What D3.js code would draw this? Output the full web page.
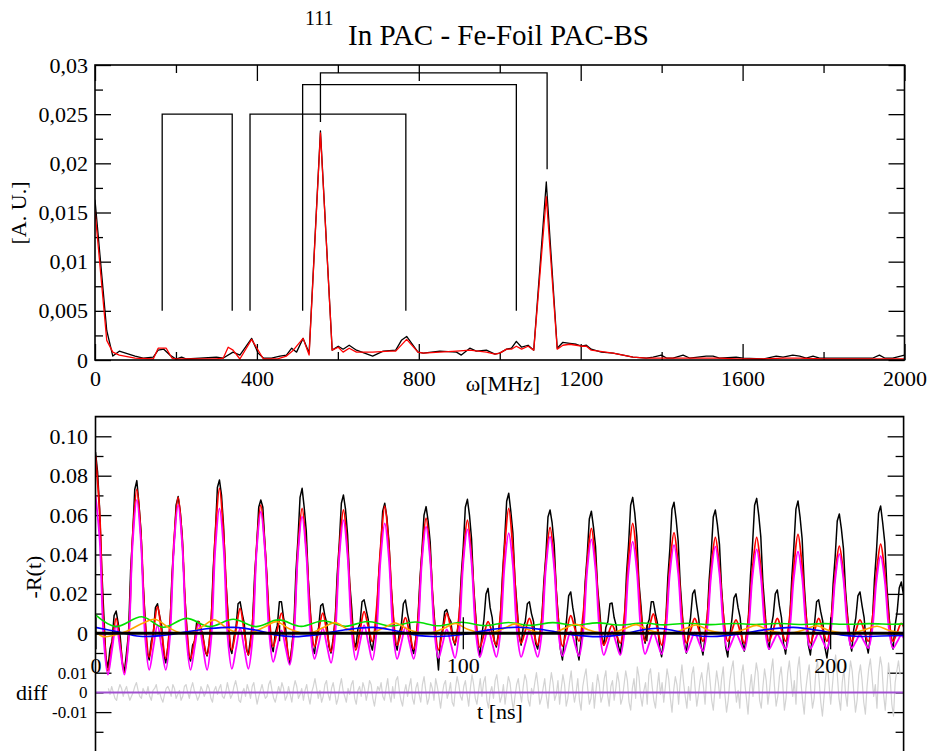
<!DOCTYPE html>
<html><head><meta charset="utf-8">
<script src="https://cdn.jsdelivr.net/npm/d3@7"></script>
<style>
body{margin:0;background:#fff}
svg{display:block}
text{font-family:"Liberation Serif","Times New Roman",serif;fill:#000}
</style>
</head><body>
<svg id="c" width="934" height="751"></svg>
<script>
// ---------------- Top panel: Fourier spectrum ----------------
const fftOmegaData = [0,29,44,60,99,119,144,156,170,185,200,214,226,259,300,317,341,358,387,403,416,436,457,473,486,498,514,529,557,586,601,613,628,646,686,712,743,757,770,798,811,852,893,905,926,942,967,988,1000,1017,1029,1041,1054,1070,1084,1115,1142,1156,1173,1189,1202,1214,1226,1251,1280,1305,1329,1362,1379,1399,1412,1428,1453,1469,1510,1527,1543,1584,1601,1650,1683,1700,1724,1741,1757,1774,1790,1840,1856,1922,1938,1951,1971,2000];
const fftAmpData = [0.0163,0.0030,0.0004,0.0009,0.0004,0.0002,0.0003,0.0010,0.0011,0.0005,0.0001,0.0003,0.0001,0.0002,0.0003,0.0002,0.0008,0.0005,0.0022,0.0007,0.0002,0.0002,0.0004,0.0005,0.0012,0.0008,0.0022,0.0007,0.0233,0.0010,0.0014,0.0011,0.0015,0.0010,0.0004,0.0009,0.0010,0.0020,0.0024,0.0008,0.0007,0.0009,0.0008,0.0005,0.0012,0.0009,0.0010,0.0006,0.0007,0.0011,0.0012,0.0019,0.0013,0.0015,0.0010,0.0181,0.0012,0.0018,0.0017,0.0016,0.0014,0.0015,0.0011,0.0008,0.0007,0.0005,0.0003,0.0002,0.0003,0.0005,0.0002,0.0002,0.0005,0.0002,0.0004,0.0004,0.0002,0.0003,0.0002,0.0001,0.0004,0.0003,0.0005,0.0004,0.0002,0.0004,0.0002,0.0002,0.0002,0.0002,0.0005,0.0002,0.0002,0.0005];
const fftOmegaFit = [0,29,44,60,99,144,156,176,190,200,259,300,317,329,341,358,387,416,449,473,490,514,529,557,586,601,613,628,646,686,728,743,770,798,811,893,926,967,988,1000,1017,1029,1041,1054,1070,1084,1115,1142,1156,1173,1189,1202,1214,1226,1280,1329,1362,1400,1450,1500,1543,1584,1650,1700,1741,1800,1856,1922,2000];
const fftAmpFit = [0.0152,0.0020,0.0008,0.0005,0.0002,0.0001,0.0012,0.0012,0.0002,0.0001,0.0001,0.0001,0.0002,0.0013,0.0010,0.0001,0.0021,0.0001,0.0001,0.0004,0.0010,0.0022,0.0005,0.0231,0.0010,0.0013,0.0008,0.0012,0.0008,0.0008,0.0009,0.0009,0.0021,0.0008,0.0007,0.0009,0.0010,0.0008,0.0006,0.0007,0.0011,0.0011,0.0014,0.0011,0.0014,0.0010,0.0166,0.0011,0.0015,0.0016,0.0015,0.0014,0.0014,0.0010,0.0007,0.0003,0.0002,0.0002,0.0002,0.0002,0.0002,0.0001,0.0001,0.0002,0.0002,0.0001,0.0001,0.0001,0.0001];
// frequency triplet markers
const markerLeft   = [166, 383, 513, 557];
const markerRight  = [339, 768, 1041, 1117];
const markerTop    = [0.025, 0.025, 0.028, 0.0292];
const markerFootL  = [0.005, 0.005, 0.005, 0.0242];
const markerFootR  = [0.005, 0.005, 0.005, 0.0194];
const topXMajor = [0,400,800,1200,1600,2000];
const topXMinor = [200,600,1000,1400,1800];
const topYMajor = [0,0.005,0.01,0.015,0.02,0.025,0.03];
const topYMinor = [0.0025,0.0075,0.0125,0.0175,0.0225,0.0275];

// ---------------- Bottom panel: -R(t) ----------------
const dataStep = 0.5625; // ns between measured samples
const rtData = [
.092,.082,.063,.033,.010,-.012,-.0175,-.008,-.004,.009,.0113,.005,-.002,-.015,-.0195,-.010,.000,.032,.050,.073,
.0775,.066,.052,.026,.008,-.010,-.0135,-.004,.000,.013,.015,.009,.004,-.011,-.015,-.007,.002,.029,.045,.065,
.0694,.062,.049,.023,.006,-.011,-.014,-.006,-.004,.006,.006,.002,-.001,-.009,-.0115,-.005,.006,.033,.051,.074,
.0778,.070,.054,.028,.012,-.007,-.0102,-.002,.003,.015,.016,.010,.005,-.008,-.011,-.003,.005,.029,.044,.064,
.0677,.064,.045,.028,.006,-.006,-.0093,.000,.004,.016,.016,.008,.003,-.010,-.0152,-.007,.003,.031,.048,.069,
.0736,.064,.052,.027,.011,-.007,-.0102,-.001,.003,.014,.015,.009,.005,-.007,-.010,-.003,.007,.030,.046,.066,
.0702,.063,.050,.026,.013,-.004,-.007,.002,.005,.016,.017,.012,.007,-.005,-.0085,-.001,.007,.028,.043,.062,
.066,.059,.047,.025,.010,-.005,-.0085,.000,.004,.015,.0169,.010,.005,-.007,-.0102,-.003,.006,.027,.042,.060,
.0643,.057,.046,.022,.008,-.007,-.0186,-.002,.002,.011,.012,.008,.006,-.003,-.006,.000,.008,.029,.044,.064,
.068,.060,.048,.024,.009,-.006,-.0119,-.001,.007,.020,.0228,.013,.008,-.004,-.007,.000,.009,.030,.047,.067,
.0711,.062,.051,.027,.014,-.001,-.006,.003,.006,.015,.016,.010,.006,-.005,-.008,-.001,.007,.026,.040,.059,
.0626,.056,.045,.022,.008,-.008,-.0135,-.002,.007,.019,.021,.013,.007,-.008,-.0135,-.004,.005,.026,.040,.058,
.062,.054,.044,.023,.012,-.002,-.006,.003,.006,.015,.0154,.008,.004,-.006,-.0102,-.002,.007,.030,.045,.065,
.069,.061,.049,.026,.014,.000,-.005,.004,.007,.016,.016,.010,.005,-.007,-.0119,-.003,.006,.028,.043,.063,
.0665,.058,.047,.025,.010,-.005,-.010,.001,.008,.020,.022,.014,.007,-.006,-.011,-.002,.006,.027,.041,.059,
.0626,.055,.045,.023,.008,-.007,-.012,-.001,.007,.018,.020,.013,.008,-.004,-.009,-.001,.008,.029,.045,.065,
.0685,.060,.049,.026,.012,-.003,-.008,.003,.009,.020,.022,.014,.008,-.005,-.0105,-.002,.007,.028,.044,.063,
.0672,.059,.048,.025,.009,-.006,-.011,-.001,.005,.016,.017,.011,.006,-.007,-.0125,-.004,.004,.025,.039,.057,
.0606,.053,.043,.022,.009,-.004,-.009,.002,.008,.019,.021,.014,.008,-.005,-.010,-.002,.006,.027,.042,.061,
.0646,.056,.046,.024,.010,-.004,-.008,.004,.011,.023,.026,.020,.016];
const fitStep = 1.125; // ns between fit-curve samples
const rtFit = [
.0900,.0612,.0035,-.0190,-.0057,.0076,-.0062,-.0200,-.0018,.0496,
.0730,.0496,.0063,-.0120,.0008,.0135,.0004,-.0127,.0046,.0469,
.0690,.0469,.0046,-.0127,-.0034,.0059,-.0026,-.0110,.0074,.0500,
.0736,.0500,.0099,-.0085,.0021,.0127,.0008,-.0110,.0053,.0443,
.0651,.0443,.0095,-.0068,.0017,.0102,-.0017,-.0135,.0024,.0431,
.0634,.0431,.0091,-.0068,.0017,.0102,.0005,-.0093,.0064,.0426,
.0626,.0426,.0072,-.0085,.0013,.0110,.0034,-.0042,.0120,.0439,
.0646,.0439,.0102,-.0060,.0010,.0080,.0000,-.0080,.0066,.0397,
.0584,.0397,.0061,-.0085,.0009,.0102,.0026,-.0050,.0094,.0391,
.0575,.0391,.0074,-.0070,-.0006,.0059,.0000,-.0060,.0099,.0431,
.0634,.0431,.0109,-.0050,.0013,.0076,.0008,-.0060,.0075,.0366,
.0538,.0366,.0070,-.0065,.0013,.0090,.0025,-.0040,.0093,.0362,
.0533,.0362,.0073,-.0060,-.0009,.0042,-.0004,-.0050,.0090,.0379,
.0558,.0379,.0100,-.0040,.0029,.0098,.0019,-.0060,.0068,.0347,
.0511,.0347,.0078,-.0050,.0013,.0076,.0018,-.0040,.0082,.0331,
.0487,.0331,.0082,-.0040,.0014,.0068,.0009,-.0050,.0072,.0331,
.0487,.0331,.0082,-.0040,.0018,.0076,.0018,-.0040,.0086,.0341,
.0502,.0341,.0076,-.0050,.0013,.0076,.0018,-.0040,.0071,.0301,
.0443,.0301,.0071,-.0040,.0014,.0068,.0014,-.0040,.0073,.0308,
.0453,.0308,.0073,-.0040,.0005,.0050,.0005];
const rtComponentFe = [
.0700,.0476,-.0035,-.0210,-.0084,.0042,-.0084,-.0210,-.0041,.0460,
.0677,.0460,-.0017,-.0186,-.0072,.0042,-.0072,-.0186,-.0023,.0443,
.0651,.0443,-.0023,-.0186,-.0071,.0045,-.0071,-.0186,-.0028,.0431,
.0634,.0431,-.0022,-.0180,-.0078,.0025,-.0078,-.0180,-.0026,.0420,
.0617,.0420,.0009,-.0145,-.0065,.0015,-.0073,-.0160,-.0012,.0403,
.0592,.0403,.0018,-.0130,-.0053,.0025,-.0063,-.0150,-.0006,.0391,
.0575,.0391,.0009,-.0135,-.0047,.0042,-.0047,-.0135,.0005,.0379,
.0558,.0379,.0010,-.0130,-.0050,.0030,-.0050,-.0130,.0005,.0368,
.0541,.0368,.0010,-.0125,-.0053,.0020,-.0053,-.0125,.0007,.0359,
.0528,.0359,.0012,-.0120,-.0050,.0020,-.0050,-.0120,.0007,.0345,
.0508,.0345,.0007,-.0120,-.0053,.0015,-.0053,-.0120,.0003,.0333,
.0490,.0333,.0008,-.0115,-.0053,.0010,-.0053,-.0115,.0004,.0324,
.0477,.0324,.0009,-.0110,-.0050,.0010,-.0050,-.0110,.0006,.0316,
.0465,.0316,.0011,-.0105,-.0050,.0005,-.0050,-.0105,.0007,.0305,
.0448,.0305,.0017,-.0095,-.0045,.0005,-.0043,-.0090,.0020,.0299,
.0440,.0299,.0025,-.0085,-.0043,.0000,-.0043,-.0085,.0022,.0290,
.0426,.0290,.0027,-.0080,-.0043,-.0005,-.0043,-.0080,.0024,.0282,
.0414,.0282,.0026,-.0078,-.0039,.0000,-.0039,-.0078,.0023,.0273,
.0402,.0273,.0026,-.0075,-.0042,-.0008,-.0042,-.0075,.0023,.0267,
.0392,.0267,.0023,-.0075,-.0043,-.0010,-.0043];
const greenT = [0,5.5,12.6,18.5,24.8,31,37.5,43.7,49.8,56,62,68,74,80.5,87,93.4,99.7,106,112.4,118.5,124.5,130.5,136.5,142.8,149,155,161.2,167.4,173.6,179.8,186,192.2,198.4,204.6,210.8,217,220.5];
const greenV = [0.0093,0.0034,0.0084,0.0031,0.0076,0.0034,0.0071,0.0034,0.0068,0.0035,0.0064,0.0036,0.0060,0.0037,0.0057,0.0038,0.0056,0.0039,0.0055,0.0040,0.0054,0.0041,0.0053,0.0042,0.0052,0.0043,0.0051,0.0044,0.0050,0.0045,0.0050,0.0045,0.0049,0.0046,0.0049,0.0046,0.0048];
const orangeT = [0,2.1,5,8.5,12.5,16.2,19.8,23,26.2,29.2,32.3,35.6,38.8,42.6,46,49.3,52.6,55.8,59,62,65.2,68.5,71.8,75.5,78.5,81.6,85,88.2,91.8,95,98,101.3,104.6,108.2,111.3,114.4,117.7,121,124.6,127.7,130.8,134.1,137.4,141,144.1,147.2,150.5,153.8,157.4,160.5,163.6,166.9,170.2,173.8,176.9,180,183.3,186.6,190.2,193.3,196.4,199.7,203,206.6,209.7,212.8,216.1,219.4,221];
const orangeV = [0.0010,-0.0017,-0.0010,0.0010,0.0048,0.0071,0.0030,0.0003,0.0005,0.0035,0.0068,0.0028,0.0003,0.0004,0.0032,0.0059,0.0024,0.0003,0.0004,0.0029,0.0054,0.0022,0.0003,0.0004,0.0028,0.0052,0.0021,0.0003,0.0004,0.0027,0.0050,0.0020,0.0003,0.0004,0.0026,0.0048,0.0019,0.0003,0.0004,0.0025,0.0046,0.0018,0.0003,0.0004,0.0024,0.0044,0.0017,0.0003,0.0004,0.0023,0.0042,0.0016,0.0003,0.0004,0.0022,0.0040,0.0015,0.0003,0.0004,0.0021,0.0038,0.0014,0.0003,0.0004,0.0020,0.0036,0.0014,0.0003,0.0003];
const blueT = [0,6,12,18,25,31,37.5,44,49,54,60,68,75.6,82,88,93,100,108,115,122,130,137,143,148,153,158,163,168,175,183,190,197,203,208,214,221];
const blueV = [0.0030,0.0008,-0.0015,-0.0012,0.0008,0.0024,0.0030,0.0015,-0.0008,-0.0017,-0.0008,0.0018,0.0030,0.0012,-0.0012,-0.0016,-0.0006,0.0020,0.0031,0.0018,-0.0008,-0.0017,-0.0008,0.0014,0.0026,0.0012,-0.0010,-0.0016,-0.0004,0.0020,0.0030,0.0014,-0.0008,-0.0016,-0.0014,-0.0010];
// difference data - fit, in units of 1e-3
const diffStart = 3.5, diffStep = 0.45;
const diffMilli = [
2,-1,3,0,-3,-4,1,4,2,-2,1,3,-1,-4,-2,0,3,5,1,-2,-3,2,0,-1,
3,-2,-4,1,2,4,-1,0,-3,-5,-1,2,3,1,-2,4,2,-3,-1,1,-4,-2,3,4,
0,-3,2,5,1,-1,-4,-2,3,1,-2,0,4,2,-3,-5,1,3,-1,2,4,-2,-3,0,
5,1,-3,-1,3,6,2,-4,-5,0,2,-2,4,1,-3,3,5,-1,-6,-2,1,4,0,-3,
-2,4,6,1,-3,-5,-1,3,0,5,2,-4,-2,3,-1,-5,2,6,3,-3,-1,2,-4,1,
4,-2,-6,0,3,7,2,-3,1,-5,-2,4,6,-1,-4,2,5,0,-6,-3,3,7,1,-2,
-5,2,-1,4,6,-3,-6,1,3,-2,5,2,-4,0,6,4,-3,-7,-1,3,1,5,-2,-4,
2,7,-1,-5,3,-3,6,8,1,-4,-7,0,4,-2,3,7,-3,-6,2,5,-1,-5,4,8,
1,-6,-3,5,2,-4,7,3,-2,-8,-1,4,6,-3,0,5,-5,-7,2,8,4,-2,-4,3,
6,-1,-7,2,9,4,-3,-6,1,7,-2,5,8,-4,-8,0,3,-3,6,9,2,-5,-2,4,
-6,1,8,5,-3,-9,-2,4,7,0,-5,3,9,6,-4,-7,2,-1,5,10,3,-6,-3,2,
7,-2,-8,3,10,5,-4,-1,6,-6,2,9,4,-7,-3,5,11,1,-5,0,7,-4,-9,3,
8,12,2,-6,-3,5,-8,1,9,4,-5,-2,7,11,-1,-7,3,6,-4,2,10,5,-6,-3,
4,11,6,-5,-9,2,7,-3,13,8,-2,-7,1,5,-6,9,12,3,-4,-8,2,10,-1,5,
-5,3,12,7,-3,-10,1,8,4,-6,6,14,5,-2,-8,3,-4,9,13,2,-7,-1,6,10,
3,-6,8,15,6,-4,-9,2,11,5,-3,7,13,-1,-10,-4,6,12,16,4,-5,1,-8,9,
14,5,-3,-11,2,9,-2,7,15,10,-4,-8,3,12,6,-6,1,11,17,3,-7,-2,8,13,
4,-9,-3,10,16,7,-2,6,-6,12,18,5,-4,-11,2,9,14,1,-8,-3,11,16,6,-5,
-12,-2,8,15,4,-6,3,13,19,9,-3,-9,5,12,-1,-7,7,16,11,0,-10,-4,9,14,
6,-5,-11,3,12,17,8,-2,4,-8,10,18,13,-1,-9,2,15,7,-6,-12,5,11,16,9];
const botXMajor = [0,100,200];
const botXMinor = [50,150];
const botYMajor = [-0.06,-0.04,-0.02,0,0.02,0.04,0.06,0.08,0.10];
const botYMinor = [-0.05,-0.03,-0.01,0.01,0.03,0.05,0.07,0.09];
const diffTicks = [-0.01,0,0.01];

// ================= drawing =================
const svg = d3.select('#c');
const FS = 22;
const SERIF = '"Liberation Serif","Times New Roman",serif';

function styleAxis(g, fs){
  g.attr('font-family',SERIF).attr('font-size',fs||FS);
  g.select('.domain').remove();
  g.selectAll('.tick line').attr('stroke','#000').attr('stroke-width',1.3);
  g.selectAll('.tick text').style('font-family',SERIF).style('font-size',(fs||FS)+'px');
  return g;
}

// ---- top panel ----
const xT = d3.scaleLinear().domain([0,2000]).range([95,904.5]);
const yT = d3.scaleLinear().domain([0,0.03]).range([360,65]);
const commaFmt = d => d===0 ? '0' : String(+d.toFixed(4)).replace('.',',');

styleAxis(svg.append('g').attr('transform',`translate(0,${yT(0)})`)
  .call(d3.axisBottom(xT).tickValues(topXMajor).tickSize(-16).tickPadding(10).tickFormat(d3.format('d'))));
styleAxis(svg.append('g').attr('transform',`translate(0,${yT(0)})`)
  .call(d3.axisBottom(xT).tickValues(topXMinor).tickSize(-8).tickFormat('')));
styleAxis(svg.append('g').attr('transform',`translate(0,${yT(0.03)})`)
  .call(d3.axisTop(xT).tickValues(topXMajor).tickSize(-16).tickFormat('')));
styleAxis(svg.append('g').attr('transform',`translate(0,${yT(0.03)})`)
  .call(d3.axisTop(xT).tickValues(topXMinor).tickSize(-8).tickFormat('')));
styleAxis(svg.append('g').attr('transform',`translate(${xT(0)},0)`)
  .call(d3.axisLeft(yT).tickValues(topYMajor).tickSize(-16).tickPadding(7).tickFormat(commaFmt)));
styleAxis(svg.append('g').attr('transform',`translate(${xT(0)},0)`)
  .call(d3.axisLeft(yT).tickValues(topYMinor).tickSize(-8).tickFormat('')));
styleAxis(svg.append('g').attr('transform',`translate(${xT(2000)},0)`)
  .call(d3.axisRight(yT).tickValues(topYMajor).tickSize(-16).tickFormat('')));
styleAxis(svg.append('g').attr('transform',`translate(${xT(2000)},0)`)
  .call(d3.axisRight(yT).tickValues(topYMinor).tickSize(-8).tickFormat('')));

svg.append('clipPath').attr('id','clipT').append('rect')
  .attr('x',xT(0)).attr('y',yT(0.03)).attr('width',xT(2000)-xT(0)).attr('height',yT(0)-yT(0.03));
const gTop = svg.append('g').attr('clip-path','url(#clipT)');
const lineT = d3.line().x(d=>xT(d[0])).y(d=>yT(d[1]));
gTop.append('path').attr('d',lineT(fftOmegaData.map((w,i)=>[w,fftAmpData[i]])))
  .attr('fill','none').attr('stroke','#000').attr('stroke-width',1.3).attr('stroke-linejoin','round');
gTop.append('path').attr('d',lineT(fftOmegaFit.map((w,i)=>[w,fftAmpFit[i]])))
  .attr('fill','none').attr('stroke','#ff0000').attr('stroke-width',1.3).attr('stroke-linejoin','round');
markerLeft.forEach((wl,i)=>{
  const pts = [[wl,markerFootL[i]],[wl,markerTop[i]],[markerRight[i],markerTop[i]],[markerRight[i],markerFootR[i]]];
  svg.append('path').attr('d',lineT(pts)).attr('fill','none').attr('stroke','#000').attr('stroke-width',1.3);
});
svg.append('rect').attr('x',xT(0)).attr('y',yT(0.03)).attr('width',xT(2000)-xT(0)).attr('height',yT(0)-yT(0.03))
  .attr('fill','none').attr('stroke','#000').attr('stroke-width',1.6);

svg.append('text').attr('x',305).attr('y',25).attr('font-size',20).text('111');
svg.append('text').attr('x',348).attr('y',45).attr('font-size',29).text('In PAC - Fe-Foil PAC-BS');
svg.append('text').attr('x',503).attr('y',391).attr('text-anchor','middle').attr('font-size',FS).text('ω[MHz]');
svg.append('text').attr('transform','translate(26,213) rotate(-90)').attr('text-anchor','middle').attr('font-size',FS).text('[A. U.]');

// ---- bottom panel ----
const xB = d3.scaleLinear().domain([0,220]).range([95.5,903.6]);
const yR = d3.scaleLinear().domain([-0.06,0.11]).range([751.5,416.6]);
const yD = d3.scaleLinear().domain([-0.03,0.14]).range([751.5,416.6]);
const decFmt = d => Math.abs(d)<1e-9 ? '0' : (d<0?'-':'') + Math.abs(d).toFixed(2);

styleAxis(svg.append('g').attr('transform',`translate(${xB(0)},0)`)
  .call(d3.axisLeft(yR).tickValues(botYMajor).tickSize(-16).tickPadding(7.5).tickFormat(d => d < -1e-9 ? '' : decFmt(d))));
styleAxis(svg.append('g').attr('transform',`translate(${xB(0)},0)`)
  .call(d3.axisLeft(yR).tickValues(botYMinor).tickSize(-8).tickFormat('')));
styleAxis(svg.append('g').attr('transform',`translate(${xB(220)},0)`)
  .call(d3.axisRight(yR).tickValues(botYMajor).tickSize(-16).tickFormat('')));
styleAxis(svg.append('g').attr('transform',`translate(${xB(220)},0)`)
  .call(d3.axisRight(yR).tickValues(botYMinor).tickSize(-8).tickFormat('')));
styleAxis(svg.append('g').attr('transform',`translate(${xB(0)},0)`)
  .call(d3.axisLeft(yD).tickValues(diffTicks).tickSize(0).tickPadding(8).tickFormat(decFmt)), 17);

svg.append('clipPath').attr('id','clipB').append('rect')
  .attr('x',xB(0)).attr('y',yR(0.11)).attr('width',xB(220)-xB(0)).attr('height',yR(-0.06)-yR(0.11));
const gBot = svg.append('g').attr('clip-path','url(#clipB)');

// diff
const diffPts = diffMilli.map((v,i)=>[diffStart+i*diffStep, v*1e-3]);
gBot.append('path').attr('d',d3.line().x(d=>xB(d[0])).y(d=>yD(d[1]))(diffPts))
  .attr('fill','none').attr('stroke','#d3d3d3').attr('stroke-width',1.2).attr('stroke-linejoin','round');
gBot.append('path').attr('d',d3.line().x(d=>xB(d[0])).y(d=>yD(d[1]))([[0,0],[220,0]]))
  .attr('fill','none').attr('stroke','#a050d0').attr('stroke-width',2);

const lineR = (curve) => d3.line().curve(curve).x(d=>xB(d[0])).y(d=>yR(d[1]));
const onGrid = (arr, step) => arr.map((v,i)=>[i*step, v]);
const smooth = d3.curveCatmullRom.alpha(0.5);
gBot.append('path').attr('d',lineR(d3.curveLinear)(onGrid(rtData, dataStep)))
  .attr('fill','none').attr('stroke','#000').attr('stroke-width',1.5).attr('stroke-linejoin','round');
gBot.append('path').attr('d',lineR(smooth)(onGrid(rtFit, fitStep)))
  .attr('fill','none').attr('stroke','#ff0000').attr('stroke-width',1.8);
gBot.append('path').attr('d',lineR(smooth)(onGrid(rtComponentFe, fitStep)))
  .attr('fill','none').attr('stroke','#ff00ff').attr('stroke-width',1.8);
gBot.append('path').attr('d',lineR(smooth)(greenT.map((t,i)=>[t,greenV[i]])))
  .attr('fill','none').attr('stroke','#00e000').attr('stroke-width',1.6);
gBot.append('path').attr('d',lineR(smooth)(orangeT.map((t,i)=>[t,orangeV[i]])))
  .attr('fill','none').attr('stroke','#ffa500').attr('stroke-width',1.6);
gBot.append('path').attr('d',lineR(smooth)(blueT.map((t,i)=>[t,blueV[i]])))
  .attr('fill','none').attr('stroke','#0000ff').attr('stroke-width',1.6);
gBot.append('path').attr('d',lineR(d3.curveLinear)([[0,0],[220,0]]))
  .attr('fill','none').attr('stroke','#000').attr('stroke-width',3);

// x axis on the zero line, ticks both ways
styleAxis(svg.append('g').attr('transform',`translate(0,${yR(0)})`)
  .call(d3.axisBottom(xB).tickValues(botXMajor).tickSize(16).tickPadding(8).tickFormat(d3.format('d'))));
styleAxis(svg.append('g').attr('transform',`translate(0,${yR(0)})`)
  .call(d3.axisBottom(xB).tickValues(botXMajor).tickSize(-16).tickFormat('')));
styleAxis(svg.append('g').attr('transform',`translate(0,${yR(0)})`)
  .call(d3.axisBottom(xB).tickValues(botXMinor).tickSize(8).tickFormat('')));
styleAxis(svg.append('g').attr('transform',`translate(0,${yR(0)})`)
  .call(d3.axisBottom(xB).tickValues(botXMinor).tickSize(-8).tickFormat('')));

svg.append('path').attr('d',`M${xB(0)},${yR(-0.065)}V${yR(0.11)}H${xB(220)}V${yR(-0.065)}`)
  .attr('fill','none').attr('stroke','#000').attr('stroke-width',1.6);

svg.append('text').attr('transform','translate(41,577) rotate(-90)').attr('text-anchor','middle').attr('font-size',FS).text('-R(t)');
svg.append('text').attr('x',16).attr('y',700).attr('font-size',FS).text('diff');
svg.append('text').attr('x',500).attr('y',719).attr('text-anchor','middle').attr('font-size',FS).text('t [ns]');
</script>
</body></html>
